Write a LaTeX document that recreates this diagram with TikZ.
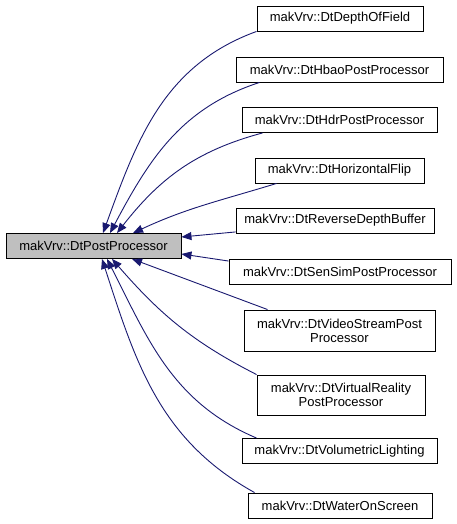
\documentclass[tikz,border=0pt]{standalone}
\usepackage{fontspec}
\setmainfont{Liberation Sans}
\usetikzlibrary{arrows.meta}
\definecolor{edgeblue}{HTML}{191970}
\definecolor{basegray}{HTML}{BFBFBF}

\tikzset{
  classbox/.style = {draw = black, fill = white, line width = 0.9pt,
    minimum height = 25pt, inner sep = 0pt, align = center,
    font = \fontsize{13}{14}\selectfont},
  inherit/.style = {draw = edgeblue, line width = 0.9pt,
    -{Triangle[length = 10pt, width = 8pt, fill = edgeblue]}}
}

\begin{document}
\begin{tikzpicture}[x = 1pt, y = 1pt]
      \useasboundingbox (0, 0) rectangle (456, 524);
      % base class
      \node[classbox, fill = basegray, minimum width = 175pt] (main) at (93.5, 278) {makVrv::DtPostProcessor};
      % derived classes
      \node[classbox, minimum width = 166pt] (dof) at (340, 505.5) {makVrv::DtDepthOfField};
      \node[classbox, minimum width = 207pt] (hbao) at (339.5, 454.5) {makVrv::DtHbaoPostProcessor};
      \node[classbox, minimum width = 195pt] (hdr) at (339.5, 404) {makVrv::DtHdrPostProcessor};
      \node[classbox, minimum width = 169pt] (hflip) at (339.5, 353.5) {makVrv::DtHorizontalFlip};
      \node[classbox, minimum width = 198pt] (rev) at (335, 303.5) {makVrv::DtReverseDepthBuffer};
      \node[classbox, minimum width = 222pt] (sensim) at (340, 252) {makVrv::DtSenSimPostProcessor};
      \node[classbox, minimum width = 191pt, minimum height = 41pt] (video) at (339.5, 193.5) {makVrv::DtVideoStreamPost\\Processor};
      \node[classbox, minimum width = 168pt, minimum height = 40pt] (vr) at (341, 129) {makVrv::DtVirtualReality\\PostProcessor};
      \node[classbox, minimum width = 195pt] (vol) at (339.5, 73) {makVrv::DtVolumetricLighting};
      \node[classbox, minimum width = 184pt] (water) at (340, 18.5) {makVrv::DtWaterOnScreen};

      % inheritance edges
      \draw[inherit] (dof.south west) to[out = 200, in = 70] ([xshift = 9.5pt]main.north);
      \draw[inherit] ([xshift = 24pt]hbao.south west) to[out = 198, in = 62] ([xshift = 16.5pt]main.north);
      \draw[inherit] ([xshift = 21pt]hdr.south west) to[out = 195, in = 52] ([xshift = 23.5pt]main.north);
      \draw[inherit] ([xshift = 22pt]hflip.south west) to[out = 197, in = 25] ([xshift = 39.5pt]main.north);
      \draw[inherit] ([yshift = 1.5pt]rev.south west) -- ([yshift = 9pt]main.east);
      \draw[inherit] ([yshift = -2pt]sensim.north west) -- ([yshift = -8pt]main.east);
      \draw[inherit] ([xshift = 24pt]video.north west) -- ([xshift = 38.5pt]main.south);
      \draw[inherit] (vr.north west) to[out = 153, in = -49] ([xshift = 18.5pt]main.south);
      \draw[inherit] ([xshift = 15pt]vol.north west) to[out = 157, in = -63] ([xshift = 13.5pt]main.south);
      \draw[inherit] ([xshift = 7pt]water.north west) to[out = 151, in = -72] ([xshift = 8.5pt]main.south);
    \end{tikzpicture}
\end{document}
